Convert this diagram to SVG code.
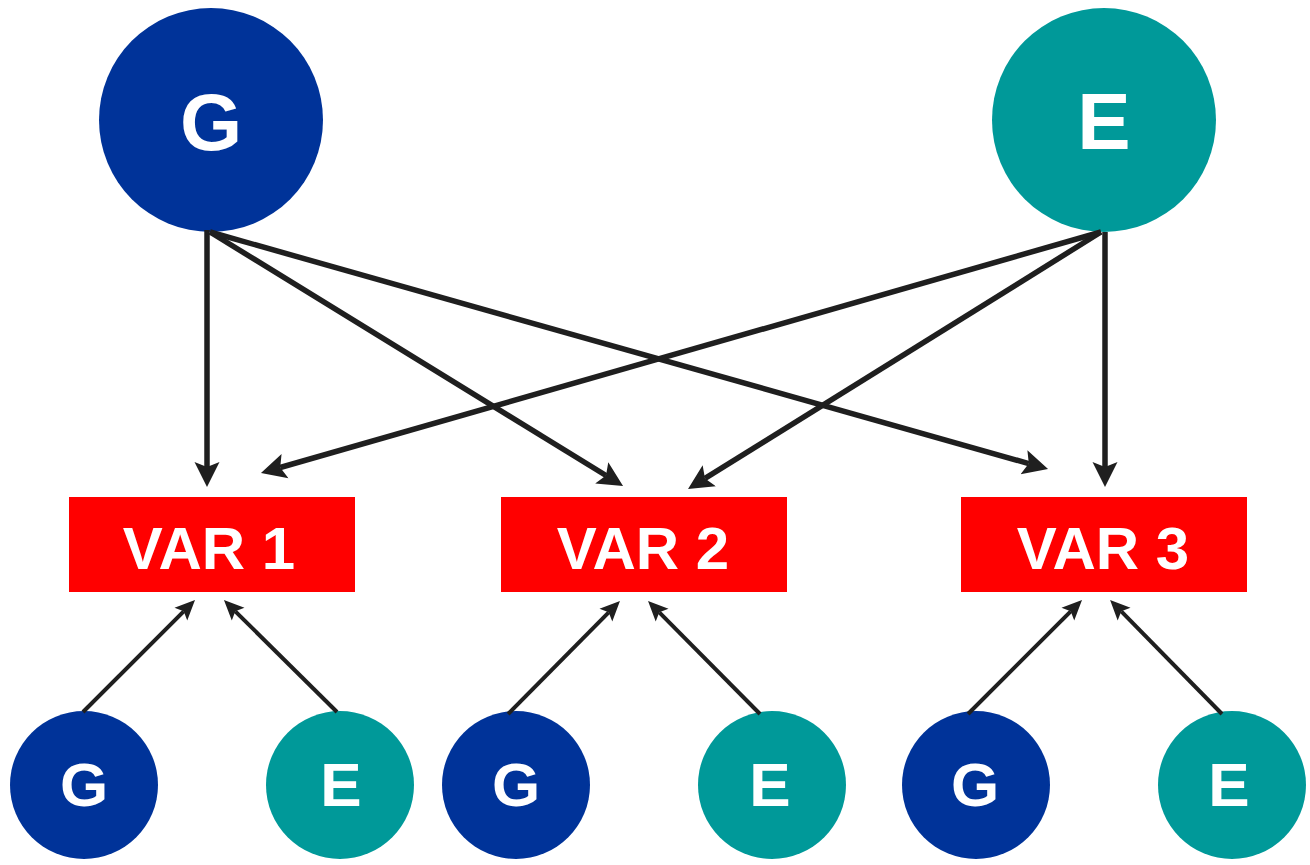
<svg xmlns="http://www.w3.org/2000/svg" width="1310" height="865" viewBox="0 0 1310 865">
<style>
.g{fill:#003399}
.e{fill:#009999}
.var{fill:#ff0000}
.t{font-family:"Liberation Sans",Arial,sans-serif;font-weight:bold;fill:#ffffff;text-anchor:middle}
.big{font-size:80px}
.mid{font-size:60px}
.sm{font-size:62px}
.lb{stroke:#1f1f1f;stroke-width:5.5;fill:none;marker-end:url(#ab)}
.ls{stroke:#1f1f1f;stroke-width:4;fill:none;marker-end:url(#as)}
</style>
<defs>
<marker id="ab" markerUnits="userSpaceOnUse" viewBox="0 -14 28 28" markerWidth="28" markerHeight="28" refX="5" refY="0" orient="auto">
<path d="M0,-12.5 L25,0 L0,12.5 L5,0 Z" fill="#1f1f1f"/>
</marker>
<marker id="as" markerUnits="userSpaceOnUse" viewBox="0 -10 22 20" markerWidth="22" markerHeight="20" refX="4" refY="0" orient="auto">
<path d="M0,-9 L20,0 L0,9 L4,0 Z" fill="#1f1f1f"/>
</marker>
</defs>
<rect width="1310" height="865" fill="#ffffff"/>
<g id="G_top"><circle class="g" cx="211" cy="120" r="112"/><text class="t big" x="211" y="150">G</text></g>
<g id="E_top"><circle class="e" cx="1104" cy="120" r="112"/><text class="t big" x="1104" y="149">E</text></g>
<g id="VAR1"><rect class="var" x="69" y="497" width="286" height="95"/><text class="t mid" x="209" y="569">VAR 1</text></g>
<g id="VAR2"><rect class="var" x="501" y="497" width="286" height="95"/><text class="t mid" x="643" y="569">VAR 2</text></g>
<g id="VAR3"><rect class="var" x="961" y="497" width="286" height="95"/><text class="t mid" x="1103" y="569">VAR 3</text></g>
<g id="G1"><circle class="g" cx="84" cy="785" r="74"/><text class="t sm" x="84" y="806">G</text></g>
<g id="E1"><circle class="e" cx="340" cy="785" r="74"/><text class="t sm" x="341" y="806">E</text></g>
<g id="G2"><circle class="g" cx="516" cy="785" r="74"/><text class="t sm" x="516" y="806">G</text></g>
<g id="E2"><circle class="e" cx="772" cy="785" r="74"/><text class="t sm" x="770" y="806">E</text></g>
<g id="G3"><circle class="g" cx="976" cy="785" r="74"/><text class="t sm" x="975" y="806">G</text></g>
<g id="E3"><circle class="e" cx="1232" cy="785" r="74"/><text class="t sm" x="1229" y="806">E</text></g>
<g id="connectors">
<line class="lb" x1="207" y1="230" x2="207" y2="467"/>
<line class="lb" x1="210" y1="232" x2="606" y2="475.5"/>
<line class="lb" x1="210" y1="232" x2="1028.8" y2="463.6"/>
<line class="lb" x1="1105" y1="232" x2="1105" y2="467"/>
<line class="lb" x1="1101" y1="232" x2="705" y2="478.4"/>
<line class="lb" x1="1101" y1="232" x2="280.2" y2="467.5"/>
<line class="ls" x1="83" y1="712" x2="183.7" y2="611.3"/>
<line class="ls" x1="337" y1="712" x2="235.3" y2="611.3"/>
<line class="ls" x1="508" y1="714" x2="608.7" y2="612.3"/>
<line class="ls" x1="760" y1="714" x2="659.3" y2="612.3"/>
<line class="ls" x1="968" y1="714" x2="1070.7" y2="611.3"/>
<line class="ls" x1="1222" y1="714" x2="1121.3" y2="611.3"/>
</g>
</svg>
